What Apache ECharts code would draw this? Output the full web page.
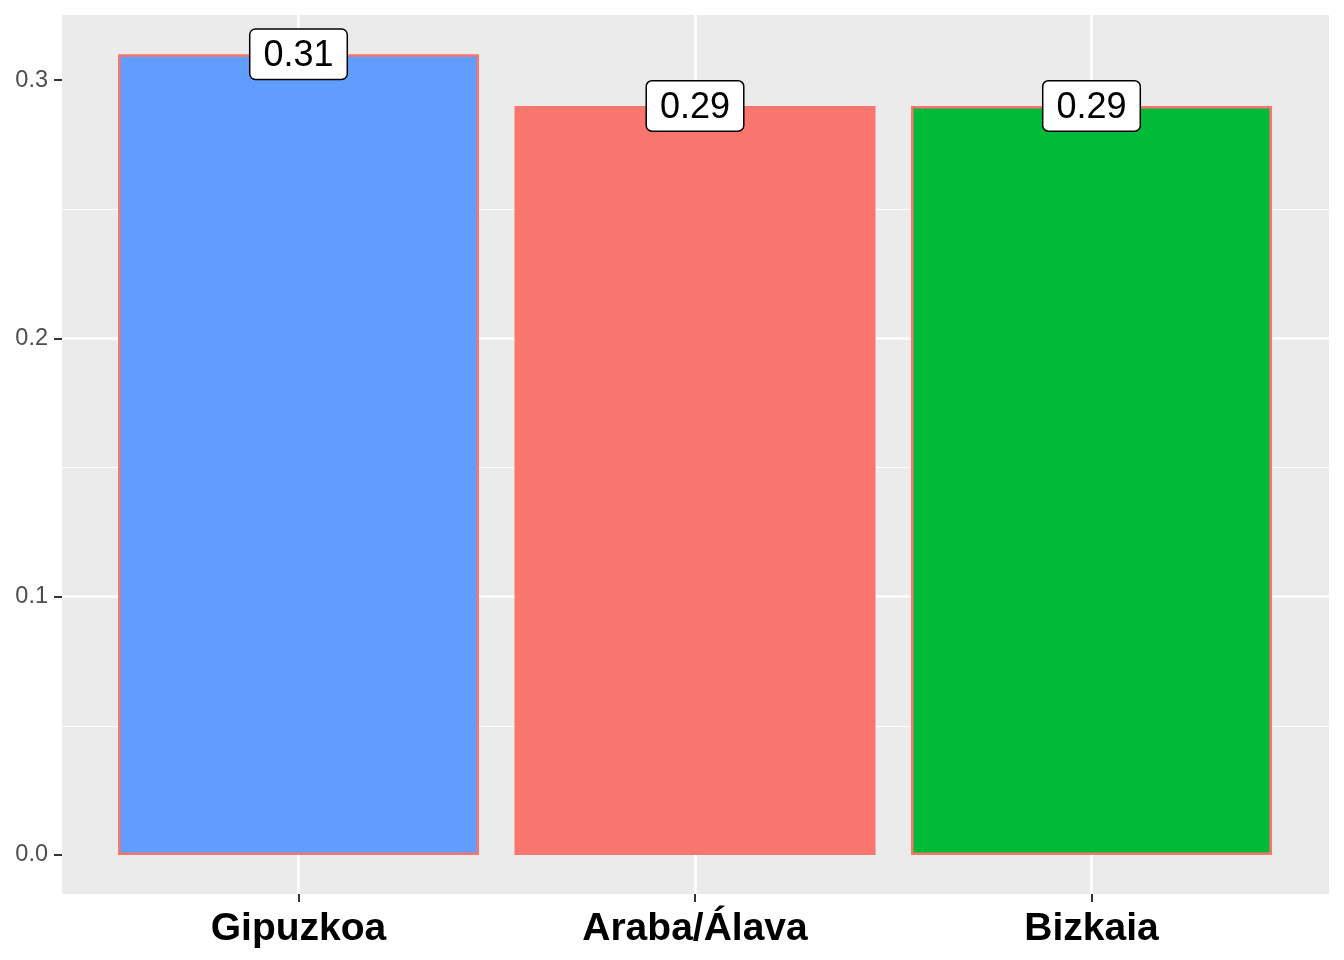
<!DOCTYPE html>
<html>
<head>
<meta charset="utf-8">
<script src="https://cdn.jsdelivr.net/npm/echarts@6/dist/echarts.min.js"></script>
<style>html,body{margin:0;padding:0;background:#fff}#c{width:1344px;height:960px}</style>
</head>
<body>
<div id="c"></div>
<script>
const categories = ['Gipuzkoa', 'Araba/Álava', 'Bizkaia'];
const values = [0.31, 0.29, 0.29];
const barColors = ['#619CFF', '#F8766D', '#00BA38'];
const yTicks = [0, 0.1, 0.2, 0.3];
const yMinorTicks = [0.05, 0.15, 0.25];
const yMin = -0.0151, yMax = 0.3252;

const chart = echarts.init(document.getElementById('c'), null, {renderer: 'canvas'});
const font = 'Liberation Sans, Arial, Helvetica, sans-serif';
const near = v => yTicks.some(t => Math.abs(t - v) < 1e-6);

chart.setOption({
  animation: false,
  backgroundColor: '#FFFFFF',
  grid: [
    {left: 62, right: 15, top: 15, bottom: 66, show: true, backgroundColor: '#EBEBEB', borderWidth: 0, containLabel: false},
    {left: 298.5, right: 252.5, top: 15, bottom: 66, show: false, containLabel: false}
  ],
  xAxis: [
    {gridIndex: 0, type: 'value', min: 0, max: 1, show: false},
    {gridIndex: 1, type: 'category', data: categories, boundaryGap: false, position: 'bottom',
     axisLine: {show: false, onZero: false},
     axisTick: {show: true, length: 8, lineStyle: {color: '#333333', width: 2}},
     axisLabel: {show: true, margin: 16, color: '#000000', fontWeight: 'bold', fontSize: 39, fontFamily: font, interval: 0},
     splitLine: {show: true, lineStyle: {color: '#FFFFFF', width: 2.5}}}
  ],
  yAxis: [
    {gridIndex: 0, type: 'value', min: yMin, max: yMax, splitNumber: 3,
     axisLine: {show: false, onZero: false},
     axisTick: {show: true, length: 8, customValues: yTicks, lineStyle: {color: '#333333', width: 2}},
     axisLabel: {show: true, margin: 14, color: '#4D4D4D', fontSize: 23.5, fontFamily: font, customValues: yTicks,
                 formatter: v => near(v) ? v.toFixed(1) : ''},
     splitLine: {show: true, showMinLine: false, showMaxLine: false, lineStyle: {color: '#FFFFFF', width: 2.5}}},
    {gridIndex: 1, type: 'value', min: yMin, max: yMax, show: false, splitLine: {show: false}}
  ],
  series: [
    {
      type: 'line', xAxisIndex: 0, yAxisIndex: 0, data: [], silent: true, z: 0,
      markLine: {silent: true, z: 0, symbol: 'none', label: {show: false},
        lineStyle: {color: '#FFFFFF', width: 1.2, type: 'solid'},
        data: yMinorTicks.map(v => ({yAxis: v}))}
    },
    {
      type: 'bar', xAxisIndex: 1, yAxisIndex: 1, barWidth: 361, clip: false, z: 10,
      data: values.map((v, i) => ({value: v, itemStyle: {color: barColors[i]}})),
      itemStyle: {borderColor: '#F8766D', borderWidth: 2.5},
      label: {show: true, position: 'top', distance: 0, offset: [0, 24.5],
        formatter: p => p.value.toFixed(2),
        color: '#000000', fontSize: 36, fontFamily: font, lineHeight: 35,
        backgroundColor: '#FFFFFF', borderColor: '#000000', borderWidth: 1.5, borderRadius: 5,
        padding: [9, 13, 5, 13]}
    }
  ]
});
</script>
</body>
</html>
